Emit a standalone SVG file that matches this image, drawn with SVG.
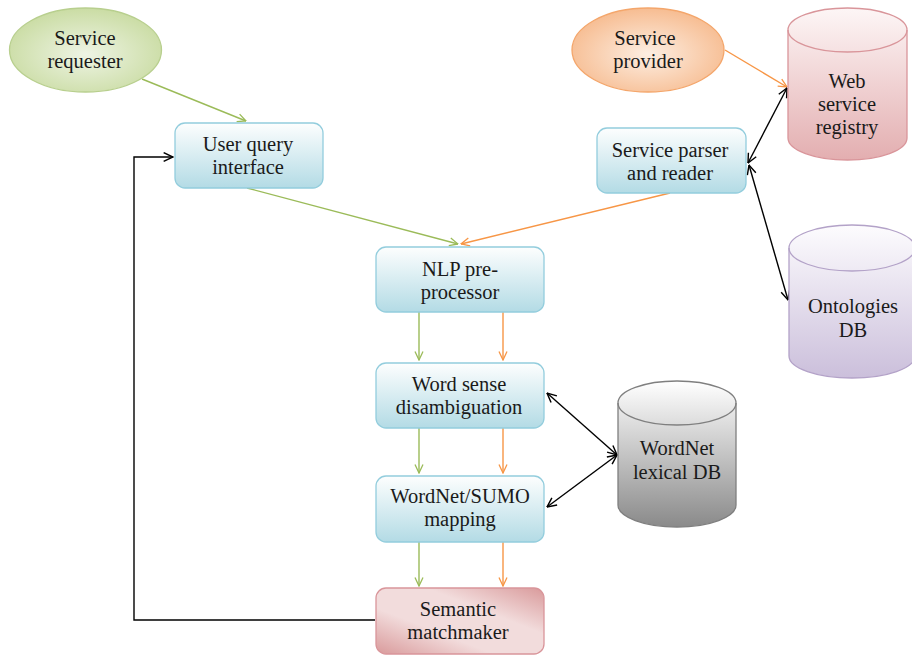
<svg xmlns="http://www.w3.org/2000/svg" width="912" height="656" viewBox="0 0 912 656">
<style>
text{font-family:"Liberation Serif","Times New Roman",serif;font-size:20.5px;fill:#1a1a1a;text-anchor:middle}
.box{fill:url(#gBlue);stroke:#93cddd;stroke-width:1.3}
.g{fill:none;stroke:#9bbb59;stroke-width:1.4}
.o{fill:none;stroke:#f79646;stroke-width:1.4}
.k{fill:none;stroke:#000;stroke-width:1.4}
</style>
<defs>
<linearGradient id="gBlue" x1="0" y1="0" x2="0" y2="1"><stop offset="0" stop-color="#fdfefe"/><stop offset="1" stop-color="#b3dbe5"/></linearGradient>
<radialGradient id="gGreen" cx="0.5" cy="0.55" r="0.6"><stop offset="0" stop-color="#eef4e4"/><stop offset="1" stop-color="#c7da9e"/></radialGradient>
<radialGradient id="gOrange" cx="0.5" cy="0.55" r="0.6"><stop offset="0" stop-color="#fdeee2"/><stop offset="1" stop-color="#f6b88a"/></radialGradient>
<linearGradient id="gPink" x1="0" y1="0" x2="0" y2="1"><stop offset="0" stop-color="#fdf6f6"/><stop offset="1" stop-color="#e3aeb0"/></linearGradient>
<linearGradient id="gPurple" x1="0" y1="0" x2="0" y2="1"><stop offset="0" stop-color="#fdfcfe"/><stop offset="1" stop-color="#cbbfdb"/></linearGradient>
<linearGradient id="gGray" x1="0" y1="0" x2="0" y2="1"><stop offset="0" stop-color="#ffffff"/><stop offset="1" stop-color="#8a8a8a"/></linearGradient>
<linearGradient id="gRed" x1="0" y1="1" x2="1" y2="0"><stop offset="0" stop-color="#d99a9b"/><stop offset="0.35" stop-color="#f2dcdc"/><stop offset="0.65" stop-color="#f2dcdc"/><stop offset="1" stop-color="#d99a9b"/></linearGradient>
<marker id="aG" viewBox="0 0 10 10" refX="9.5" refY="5" markerWidth="10" markerHeight="10" markerUnits="userSpaceOnUse" orient="auto-start-reverse"><path d="M1,1 L9.5,5 L1,9" fill="none" stroke="#9bbb59" stroke-width="1.3"/></marker>
<marker id="aO" viewBox="0 0 10 10" refX="9.5" refY="5" markerWidth="10" markerHeight="10" markerUnits="userSpaceOnUse" orient="auto-start-reverse"><path d="M1,1 L9.5,5 L1,9" fill="none" stroke="#f79646" stroke-width="1.3"/></marker>
<marker id="aK" viewBox="0 0 10 10" refX="9.5" refY="5" markerWidth="11" markerHeight="11" markerUnits="userSpaceOnUse" orient="auto-start-reverse"><path d="M1,1 L9.5,5 L1,9" fill="none" stroke="#000" stroke-width="1.3"/></marker>
</defs>

<g id="connectors">
<path class="g" d="M142,79 L246,121" marker-end="url(#aG)"/>
<path class="g" d="M247,188 L458,244" marker-end="url(#aG)"/>
<path class="o" d="M670,193 L461,244" marker-end="url(#aO)"/>
<path class="o" d="M725,50 L787,87" marker-end="url(#aO)"/>
<path class="k" d="M748,163 L787,88" marker-start="url(#aK)" marker-end="url(#aK)"/>
<path class="k" d="M749,165 L788,300" marker-start="url(#aK)" marker-end="url(#aK)"/>
<path class="g" d="M419,312 L419,360" marker-end="url(#aG)"/>
<path class="o" d="M503,312 L503,360" marker-end="url(#aO)"/>
<path class="g" d="M419,428 L419,473" marker-end="url(#aG)"/>
<path class="o" d="M503,428 L503,473" marker-end="url(#aO)"/>
<path class="g" d="M419,542 L419,586" marker-end="url(#aG)"/>
<path class="o" d="M503,542 L503,586" marker-end="url(#aO)"/>
<path class="k" d="M547,393 L617,455" marker-start="url(#aK)" marker-end="url(#aK)"/>
<path class="k" d="M547,507 L617,455" marker-start="url(#aK)" marker-end="url(#aK)"/>
<path class="k" d="M375,620 L134,620 L134,157 L173,157" marker-end="url(#aK)"/>
</g>

<g id="service-requester">
<ellipse cx="85.5" cy="50" rx="76" ry="42" fill="url(#gGreen)" stroke="#b8cf8e" stroke-width="1.3"/>
<text x="85" y="45">Service</text>
<text x="85" y="68">requester</text>
</g>

<g id="service-provider">
<ellipse cx="648" cy="50" rx="76" ry="42" fill="url(#gOrange)" stroke="#f4a66b" stroke-width="1.3"/>
<text x="645" y="45">Service</text>
<text x="648" y="68">provider</text>
</g>

<g id="user-query-interface">
<rect class="box" x="175" y="123" width="148" height="65" rx="10"/>
<text x="248" y="151">User query</text>
<text x="248" y="174">interface</text>
</g>

<g id="service-parser">
<rect class="box" x="597" y="128" width="149" height="65" rx="10"/>
<text x="670" y="157">Service parser</text>
<text x="670" y="180">and reader</text>
</g>

<g id="web-service-registry">
<path d="M788,30 L788,138 A59.5,22 0 0 0 907,138 L907,30 A59.5,22 0 0 0 788,30 Z" fill="url(#gPink)" stroke="#d9959a" stroke-width="1.3"/>
<path d="M788,30 A59.5,22 0 0 0 907,30" fill="none" stroke="#d9959a" stroke-width="1.3"/>
<text x="847" y="88">Web</text>
<text x="847" y="111">service</text>
<text x="847" y="134">registry</text>
</g>

<g id="ontologies-db">
<path d="M789,248 L789,356 A63,22 0 0 0 915,356 L915,248 A63,23 0 0 0 789,248 Z" fill="url(#gPurple)" stroke="#b3a2c8" stroke-width="1.3"/>
<path d="M789,248 A63,23 0 0 0 915,248" fill="none" stroke="#b3a2c8" stroke-width="1.3"/>
<text x="853" y="313">Ontologies</text>
<text x="853" y="337">DB</text>
</g>

<g id="nlp-preprocessor">
<rect class="box" x="376" y="247" width="168" height="65" rx="10"/>
<text x="460" y="276">NLP pre-</text>
<text x="460" y="299">processor</text>
</g>

<g id="word-sense-disambiguation">
<rect class="box" x="376" y="363" width="168" height="65" rx="10"/>
<text x="459" y="391">Word sense</text>
<text x="459" y="414">disambiguation</text>
</g>

<g id="wordnet-sumo-mapping">
<rect class="box" x="376" y="476" width="168" height="66" rx="10"/>
<text x="460" y="503">WordNet/SUMO</text>
<text x="460" y="526">mapping</text>
</g>

<g id="semantic-matchmaker">
<rect x="376" y="588" width="168" height="66" rx="10" fill="url(#gRed)" stroke="#d9959a" stroke-width="1.3"/>
<text x="458" y="616">Semantic</text>
<text x="458" y="639">matchmaker</text>
</g>

<g id="wordnet-lexical-db">
<path d="M618,403 L618,505 A59,22 0 0 0 736,505 L736,403 A59,22 0 0 0 618,403 Z" fill="url(#gGray)" stroke="#7f7f7f" stroke-width="1.3"/>
<path d="M618,403 A59,22 0 0 0 736,403" fill="none" stroke="#7f7f7f" stroke-width="1.3"/>
<text x="677" y="455">WordNet</text>
<text x="677" y="479">lexical DB</text>
</g>
</svg>
